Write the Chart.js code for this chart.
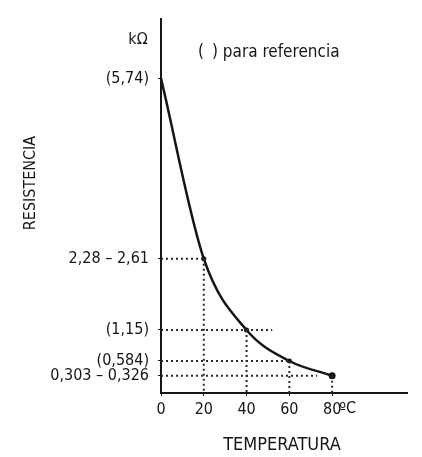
<!DOCTYPE html>
<html>
<head>
<meta charset="utf-8">
<script src="https://cdn.jsdelivr.net/npm/chart.js@4.4.0/dist/chart.umd.min.js"></script>
<style>
  body { margin: 0; background: #fff; }
  canvas { display: block; }
</style>
</head>
<body>
<canvas id="chart" width="422" height="457"></canvas>
<script>
// temperatura (ºC) y resistencia (kΩ)
const temps = [0, 20, 40, 60, 80];
const resist = [5.74, 2.45, 1.15, 0.584, 0.315];

const yTickValues = [5.74, 2.45, 1.15, 0.584, 0.315];
const yTickLabels = ['(5,74)', '2,28 – 2,61', '(1,15)', '(0,584)', '0,303 – 0,326'];
const xTickValues = [0, 20, 40, 60, 80];
const xTickLabels = ['0', '20', '40', '60', '80'];

// líneas punteadas de referencia
const guideTemps = [20, 40, 60, 80];
const guideValues = [2.45, 1.15, 0.584, 0.315];
const guideEnds = [20, 52, 60, 73];

const FONT = '"Liberation Sans Narrow", "DejaVu Sans Condensed", "Liberation Sans", sans-serif';
const INK = '#151515';

const dotted = {
    borderColor: '#2a2a2a',
    borderWidth: 2,
    borderDash: [2, 3],
    pointRadius: 0,
    fill: false,
    tension: 0,
};

const datasets = [];
guideValues.forEach((v, i) => {
    datasets.push({ ...dotted, data: [{ x: 0, y: v }, { x: guideEnds[i], y: v }] });
    datasets.push({ ...dotted, data: [{ x: guideTemps[i], y: v }, { x: guideTemps[i], y: 0 }] });
});
datasets.push({
    label: 'R',
    data: temps.map((t, i) => ({ x: t, y: resist[i] })),
    borderColor: INK,
    borderWidth: 2.5,
    cubicInterpolationMode: 'monotone',
    pointRadius: [0, 2.5, 2.5, 2.5, 3.5],
    pointBackgroundColor: INK,
    pointBorderWidth: 0,
    fill: false,
});

const textPlugin = {
    id: 'texts',
    afterDraw(chart) {
        const ctx = chart.ctx;
        const x = chart.scales.x;
        ctx.save();
        ctx.fillStyle = INK;
        ctx.textBaseline = 'middle';
        ctx.font = '16px ' + FONT;
        ctx.textAlign = 'center';
        ctx.fillText('kΩ', 138, 40);
        // unidad junto al último tick
        ctx.textAlign = 'left';
        ctx.fillText('ºC', x.getPixelForValue(80) + 7, 409);
        ctx.font = '17px ' + FONT;
        ctx.fillText('(', 198, 53);
        ctx.fillText(') para referencia', 212, 53);
        ctx.font = '18px ' + FONT;
        ctx.textAlign = 'center';
        ctx.fillText('TEMPERATURA', 282, 445);
        ctx.translate(31, 183);
        ctx.rotate(-Math.PI / 2);
        ctx.font = '16px ' + FONT;
        ctx.fillText('RESISTENCIA', 0, 0);
        ctx.restore();
    }
};

new Chart(document.getElementById('chart'), {
    type: 'line',
    data: { datasets },
    plugins: [textPlugin],
    options: {
        responsive: false,
        animation: false,
        layout: { padding: { left: 0, top: 18, right: 15, bottom: 0 } },
        plugins: {
            legend: { display: false },
            tooltip: { enabled: false },
        },
        scales: {
            x: {
                type: 'linear',
                min: 0,
                max: 115,
                afterBuildTicks: (scale) => { scale.ticks = xTickValues.map(v => ({ value: v })); },
                afterFit: (scale) => { scale.height = 64; },
                border: { color: INK, width: 2 },
                grid: { drawOnChartArea: false, drawTicks: true, tickLength: 3, color: INK },
                ticks: {
                    color: INK,
                    padding: 4,
                    maxRotation: 0,
                    font: { family: FONT, size: 16 },
                    callback: (value, index) => xTickLabels[index],
                },
            },
            y: {
                type: 'linear',
                min: 0,
                max: 6.83,
                afterBuildTicks: (scale) => { scale.ticks = yTickValues.map(v => ({ value: v })); },
                afterFit: (scale) => { scale.width = 161; },
                border: { color: INK, width: 2 },
                grid: { drawOnChartArea: false, drawTicks: true, tickLength: 3, color: INK },
                ticks: {
                    color: INK,
                    padding: 9,
                    autoSkip: false,
                    font: { family: FONT, size: 16 },
                    callback: (value, index) => yTickLabels[index],
                },
            },
        },
    },
});
</script>
</body>
</html>
